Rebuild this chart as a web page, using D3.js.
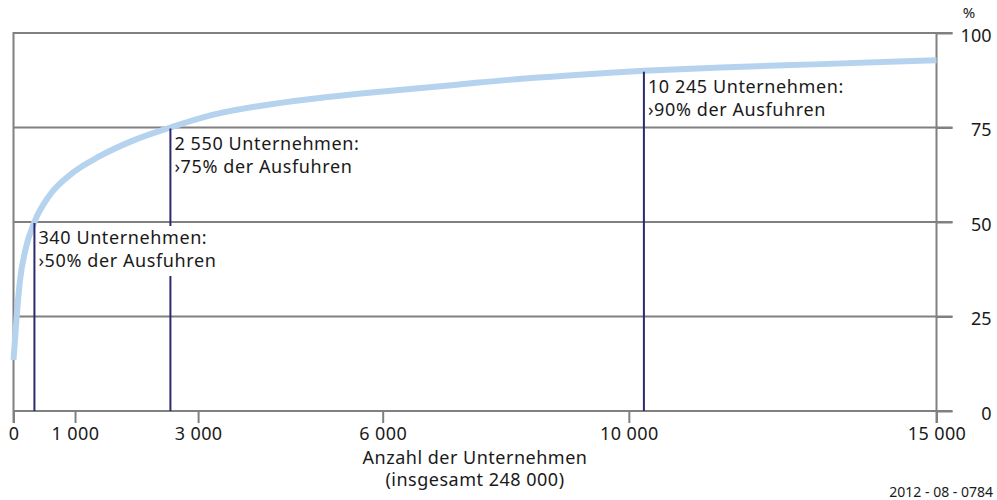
<!DOCTYPE html>
<html>
<head>
<meta charset="utf-8">
<script src="https://cdn.jsdelivr.net/npm/d3@7"></script>
<style>
  body { margin: 0; background: #fff; }
  svg text { font-family: 'Noto Sans', sans-serif; fill: #1a1a1a; }
</style>
</head>
<body>
<svg width="997" height="500"></svg>
<script>
'use strict';
// data
var firms = [0, 50, 105, 190, 340, 565, 945, 1400, 1950, 2550, 3200, 4000, 4800, 5600, 6450, 7250, 8050, 8900, 9700, 10245, 11500, 13000, 15000];
var share = [13.5, 24.7, 34.5, 42.4, 50, 56.6, 62.8, 67.4, 71.6, 75, 78.2, 80.7, 82.5, 83.9, 85.2, 86.4, 87.6, 88.6, 89.5, 90, 90.9, 91.7, 92.8];
var xTicks = [0, 1000, 3000, 6000, 10000, 15000];
var yTicks = [0, 25, 50, 75, 100];
var annFirms = [340, 2550, 10245];
var annShare = [50, 75, 90];
var annLine1 = ['340 Unternehmen:', '2 550 Unternehmen:', '10 245 Unternehmen:'];
var annLine2 = ['\u203a50% der Ausfuhren', '\u203a75% der Ausfuhren', '\u203a90% der Ausfuhren'];

var gray = '#808080';
var navy = '#2b2a6e';
var blue = '#b5d3ee';

var svg = d3.select('svg');
var xScale = d3.scaleLinear().domain([0, 15000]).range([13.5, 936.5]);
var yScale = d3.scaleLinear().domain([0, 100]).range([411, 33]);

var fmt = function(d) { return d3.format(',')(d).replace(/,/g, ' '); };

// horizontal grid lines (run out to the right tick)
svg.append('g').selectAll('line')
  .data(yTicks)
  .enter().append('line')
  .attr('x1', xScale(0))
  .attr('x2', xScale(15000) + 16)
  .attr('y1', function(d) { return yScale(d); })
  .attr('y2', function(d) { return yScale(d); })
  .style('stroke', gray)
  .style('stroke-width', 2);

// left border
svg.append('line')
  .attr('x1', xScale(0)).attr('x2', xScale(0))
  .attr('y1', yScale(100) - 1).attr('y2', yScale(0) + 12)
  .style('stroke', gray).style('stroke-width', 2);

// bottom axis
var xAxis = svg.append('g')
  .attr('transform', 'translate(0,' + yScale(0) + ')')
  .call(d3.axisBottom(xScale).tickValues(xTicks).tickSize(12).tickFormat(fmt));
xAxis.select('.domain').remove();
xAxis.selectAll('line').style('stroke', gray).style('stroke-width', 2);
xAxis.selectAll('text')
  .style('font-size', '18px')
  .style('letter-spacing', '0.4px')
  .attr('dy', null)
  .attr('y', 29);

// right axis, labels right aligned
var yAxis = svg.append('g')
  .attr('transform', 'translate(' + xScale(15000) + ',0)')
  .call(d3.axisRight(yScale).tickValues(yTicks).tickSize(16));
yAxis.select('.domain').remove();
yAxis.selectAll('line').style('stroke', gray).style('stroke-width', 2);
yAxis.selectAll('text')
  .style('font-size', '18px')
  .style('text-anchor', 'end')
  .attr('x', 55)
  .attr('dy', '0.45em');
svg.append('line')
  .attr('x1', xScale(15000)).attr('x2', xScale(15000))
  .attr('y1', yScale(100) - 1).attr('y2', yScale(0) + 12)
  .style('stroke', gray).style('stroke-width', 2);

svg.append('text')
  .attr('x', 969).attr('y', 18)
  .style('text-anchor', 'middle')
  .style('font-size', '15px')
  .text('%');

// curve
var pts = firms.map(function(f, i) { return [f, share[i]]; });
var line = d3.line()
  .x(function(d) { return xScale(d[0]); })
  .y(function(d) { return yScale(d[1]); })
  .curve(d3.curveMonotoneX);
svg.append('path')
  .datum(pts)
  .attr('d', line)
  .style('fill', 'none')
  .style('stroke', blue)
  .style('stroke-width', 6);

// annotation lines
svg.append('g').selectAll('line')
  .data(annFirms)
  .enter().append('line')
  .attr('x1', function(d) { return xScale(d); })
  .attr('x2', function(d) { return xScale(d); })
  .attr('y1', function(d, i) { return yScale(annShare[i]) + 1; })
  .attr('y2', yScale(0))
  .style('stroke', navy)
  .style('stroke-width', 2);

// annotation labels with white box behind
var ann = svg.append('g').selectAll('g')
  .data(annFirms)
  .enter().append('g')
  .attr('transform', function(d, i) {
    return 'translate(' + (xScale(d) + 4) + ',' + yScale(annShare[i]) + ')';
  });
ann.append('rect')
  .attr('x', 1).attr('y', 4)
  .attr('width', 185).attr('height', 50)
  .style('fill', '#fff');
ann.append('text')
  .attr('y', 22)
  .style('font-size', '18px')
  .style('letter-spacing', '0.6px')
  .text(function(d, i) { return annLine1[i]; });
ann.append('text')
  .attr('y', 45)
  .style('font-size', '18px')
  .style('letter-spacing', '0.6px')
  .text(function(d, i) { return annLine2[i]; });

// axis title
svg.append('text')
  .attr('x', 475).attr('y', 464)
  .style('text-anchor', 'middle')
  .style('font-size', '18px')
  .style('letter-spacing', '0.5px')
  .text('Anzahl der Unternehmen');
svg.append('text')
  .attr('x', 475).attr('y', 486)
  .style('text-anchor', 'middle')
  .style('font-size', '18px')
  .style('letter-spacing', '0.5px')
  .text('(insgesamt 248 000)');

svg.append('text')
  .attr('x', 993).attr('y', 497)
  .style('text-anchor', 'end')
  .style('font-size', '14px')
  .text('2012 - 08 - 0784');
</script>
</body>
</html>
